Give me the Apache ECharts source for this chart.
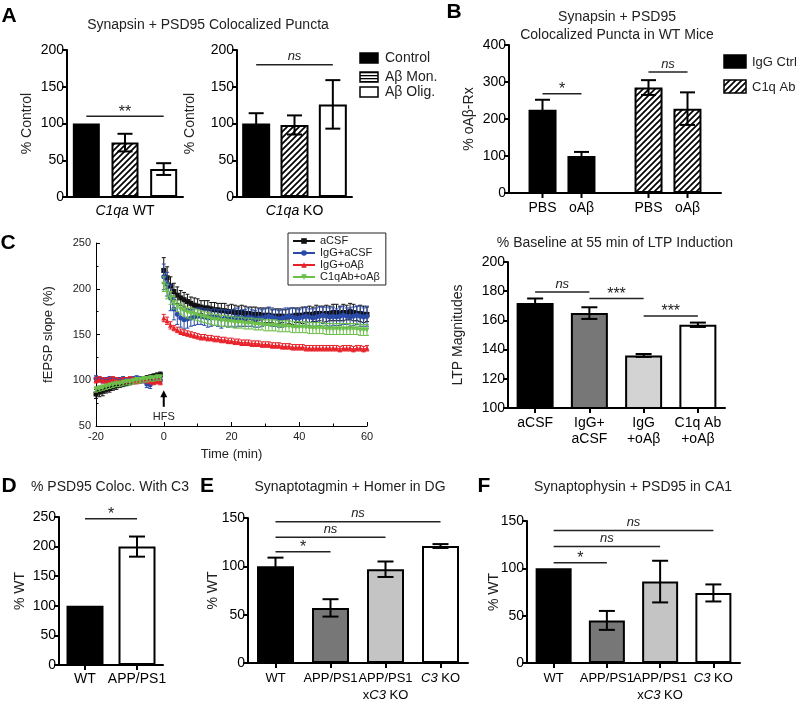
<!DOCTYPE html>
<html><head><meta charset="utf-8">
<script src="https://cdn.jsdelivr.net/npm/echarts@6/dist/echarts.min.js"></script>
<style>html,body{margin:0;padding:0;background:#fff}#c{width:800px;height:704px}</style>
</head><body><div id="c"></div>
<script>
// ================= DATA =================
// Panel A
const aGroups = ['Control', 'Aβ Mon.', 'Aβ Olig.'];
const aWT = [100, 74, 38];
const aWTSem = [0, 12, 8];
const aKO = [100, 98, 126];
const aKOSem = [14, 13, 33];
const aWTSig = [[0, 2, 110, '**']];
const aKOSig = [[0, 2, 180, 'ns']];

// Panel B (slots: IgG-PBS, IgG-oAβ, C1q-PBS, C1q-oAβ)
const bGroups = ['IgG Ctrl', 'C1q Ab'];
const bTreat = ['PBS', 'oAβ'];
const bIgG = [225, 100];
const bIgGSem = [27, 11];
const bC1q = [285, 228];
const bC1qSem = [20, 44];
const bSig = [[0, 1, 268, '*'], [2, 3, 327, 'ns']];

// Panel C (time course)
const cNames = ['aCSF', 'IgG+aCSF', 'IgG+oAβ', 'C1qAb+oAβ'];
const cTime = [-20,-19,-18,-17,-16,-15,-14,-13,-12,-11,-10,-9,-8,-7,-6,-5,-4,-3,-2,-1,
  0,1,2,3,4,5,6,7,8,9,10,11,12,13,14,15,16,17,18,19,20,21,22,23,24,25,26,27,28,29,30,
  31,32,33,34,35,36,37,38,39,40,41,42,43,44,45,46,47,48,49,50,51,52,53,54,55,56,57,58,59,60];
const cACSF = [85,87,88,90,91,93,94,95,96,97,98,99,100,100,101,102,103,104,105,106,
  220,212,203,197,193,190,188,186,184,182,181,180,179,179,178,177,177,176,176,175,
  175,174,174,174,173,173,172,172,172,171,171,171,170,170,170,170,169,170,170,171,
  171,171,172,172,172,173,173,172,173,173,174,174,173,174,174,175,174,173,173,172,172];
const cACSFErr = [5,5,5,4,4,4,4,3,3,3,3,3,3,3,3,3,3,3,3,3,
  14,12,10,9,9,8,8,8,7,8,8,7,8,8,7,8,7,8,8,7,
  8,8,7,8,8,7,8,8,7,8,8,8,7,8,8,7,8,8,9,8,
  8,9,8,9,8,9,8,9,9,8,9,9,8,9,8,9,9,8,9,9,8];
const cIgGaCSF = [102,101,100,100,101,100,99,100,101,100,100,101,102,101,100,96,95,99,101,100,
  213,205,190,178,172,168,166,167,168,169,170,170,169,168,168,169,168,167,168,167,
  168,168,169,168,168,169,168,167,168,168,169,170,169,168,167,168,169,170,169,168,
  168,169,170,169,168,169,170,171,170,169,170,169,170,171,170,169,170,171,170,169,170];
const cIgGaCSFErr = [3,3,3,3,3,3,3,3,3,3,3,3,3,3,3,4,4,3,3,3,
  14,13,14,12,11,10,10,10,9,9,9,9,9,10,9,9,9,10,9,9,
  9,10,10,9,9,10,9,9,10,9,9,10,10,9,9,10,10,9,10,10,
  9,10,10,9,10,10,10,9,10,10,10,9,10,10,9,10,10,10,11,10,11];
const cIgGoAb = [100,101,100,99,100,101,100,99,100,100,101,100,99,100,101,100,99,98,99,98,
  168,165,160,157,155,153,152,151,150,149,148,147,147,146,146,145,145,144,144,143,
  143,142,142,141,141,141,140,140,140,139,139,139,138,138,138,137,137,137,136,136,
  136,136,135,135,135,135,135,135,135,135,135,135,134,135,135,135,134,135,135,134,135];
const cIgGoAbErr = [3,3,3,3,3,3,3,3,3,3,3,3,3,3,3,3,3,3,3,3,
  4,4,4,3,3,3,3,3,3,3,3,3,3,3,3,3,3,3,3,3,
  3,3,3,3,3,3,3,3,3,3,3,3,3,3,3,3,3,3,3,3,
  3,3,3,3,3,3,3,3,3,3,3,3,3,3,3,3,3,3,3,3,3];
const cC1qoAb = [90,91,92,93,94,95,96,96,97,98,98,99,100,100,101,101,102,102,103,103,
  205,197,190,185,181,178,176,174,173,172,171,170,169,168,167,166,166,165,165,164,
  164,163,163,163,162,162,162,161,161,161,160,160,160,160,159,159,159,159,158,158,
  158,158,158,157,157,157,157,157,156,156,156,156,156,156,156,156,156,156,155,155,155];
const cC1qoAbErr = [3,3,3,3,3,3,3,3,3,3,3,3,3,3,3,3,3,3,3,3,
  8,8,7,7,6,6,6,6,6,6,6,6,6,6,6,6,6,6,6,6,
  6,6,6,6,6,6,6,6,6,6,6,6,6,6,6,6,6,6,6,6,
  6,6,6,6,6,6,6,6,6,6,6,6,6,6,6,6,6,6,6,6,6];
const hfsMark = {t: 0, tail: 71, tip: 89, labelY: 60, label: 'HFS'};

// Panel C (LTP magnitudes)
const ltpCats = ['aCSF', 'IgG+\naCSF', 'IgG\n+oAβ', 'C1q Ab\n+oAβ'];
const ltpVals = [172, 165, 136, 157];
const ltpSem = [3, 4, 1, 1.5];
const ltpSig = [[0, 1, 179.5, 'ns'], [1, 2, 175, '***'], [2, 3, 163, '***']];

// Panel D
const dCats = ['WT', 'APP/PS1'];
const dVals = [100, 200];
const dSem = [0, 17];
const dSig = [[0, 1, 247, '*']];

// Panels E, F
const efCats = ['WT', 'APP/PS1', 'APP/PS1\nx{i|C3} KO', '{i|C3} KO'];
const eVals = [100, 57, 97, 121];
const eSem = [9, 9, 8, 2];
const eSig = [[0, 1, 115, '*'], [0, 2, 130, 'ns'], [0, 3, 146, 'ns']];
const fVals = [100, 45, 86, 74];
const fSem = [0, 10, 22, 9];
const fSig = [[0, 1, 106, '*'], [0, 2, 123, 'ns'], [0, 3, 140, 'ns']];

// ================= STYLE HELPERS =================
const FONT = '"Liberation Sans", Arial, Helvetica, sans-serif';
function makeHatch() {
  const c = document.createElement('canvas'); c.width = 6; c.height = 6;
  const g = c.getContext('2d');
  g.fillStyle = '#fff'; g.fillRect(0, 0, 6, 6);
  g.strokeStyle = '#000'; g.lineWidth = 1.7; g.beginPath();
  g.moveTo(-1, 7); g.lineTo(7, -1);
  g.moveTo(-1, 1); g.lineTo(1, -1);
  g.moveTo(5, 7); g.lineTo(7, 5);
  g.stroke();
  return {image: c, repeat: 'repeat'};
}
function makeHStripe() {
  const c = document.createElement('canvas'); c.width = 4; c.height = 3;
  const g = c.getContext('2d');
  g.fillStyle = '#fff'; g.fillRect(0, 0, 4, 3);
  g.fillStyle = '#000'; g.fillRect(0, 0, 4, 1.3);
  return {image: c, repeat: 'repeat'};
}
const HATCH = makeHatch();
const HSTRIPE = makeHStripe();

const grids = [], xAxes = [], yAxes = [], series = [];
function addGrid(g, x, y) {
  grids.push(g); const i = grids.length - 1;
  x.gridIndex = i; y.gridIndex = i; xAxes.push(x); yAxes.push(y); return i;
}
function barY(min, max, interval, name, nameGap) {
  return {type: 'value', min, max, interval, name, nameLocation: 'middle', nameGap, nameMoveOverlap: false,
    nameTextStyle: {fontSize: 14, color: '#222', fontFamily: FONT},
    axisLine: {show: true, lineStyle: {color: '#000', width: 2}},
    axisTick: {show: true, length: 5, lineStyle: {color: '#000', width: 2}},
    axisLabel: {fontSize: 14, color: '#000', margin: 3, fontFamily: FONT},
    splitLine: {show: false}};
}
function catX(data, extra) {
  const ax = {type: 'category', data,
    axisLine: {show: true, lineStyle: {color: '#000', width: 2}},
    axisTick: {show: true, alignWithLabel: true, length: 5, lineStyle: {color: '#000', width: 2}},
    axisLabel: {show: true, interval: 0, fontSize: 13, color: '#000', margin: 7, fontFamily: FONT, lineHeight: 17,
      rich: {i: {fontStyle: 'italic', fontSize: 13, lineHeight: 17, fontFamily: FONT, color: '#000'}}},
    splitLine: {show: false}};
  return Object.assign(ax, extra || {});
}
function bars(gi, vals, fills, width) {
  return {type: 'bar', xAxisIndex: gi, yAxisIndex: gi, barWidth: width, silent: true, z: 2,
    data: vals.map((v, i) => ({value: v, itemStyle: {color: fills[i], borderColor: '#000', borderWidth: 2}}))};
}
const simpleSlot = (api, s, y) => api.coord([s, y]);
function errBars(gi, slots, vals, sems, slotFn, hw) {
  return {type: 'custom', xAxisIndex: gi, yAxisIndex: gi, z: 5, silent: true,
    data: vals.map((v, i) => [slots[i], v, sems[i]]), encode: {x: 0, y: 1},
    renderItem: (p, api) => {
      const s = api.value(0), m = api.value(1), e = api.value(2);
      if (!e) return {type: 'group', children: []};
      const t = slotFn(api, s, m + e), b = slotFn(api, s, m - e), x = t[0];
      const ls = {stroke: '#000', lineWidth: 2};
      return {type: 'group', children: [
        {type: 'line', shape: {x1: x, y1: t[1], x2: x, y2: b[1]}, style: ls},
        {type: 'line', shape: {x1: x - hw, y1: t[1], x2: x + hw, y2: t[1]}, style: ls},
        {type: 'line', shape: {x1: x - hw, y1: b[1], x2: x + hw, y2: b[1]}, style: ls}]};
    }};
}
function sigLines(gi, sig, slotFn) {
  return {type: 'custom', xAxisIndex: gi, yAxisIndex: gi, z: 6, silent: true,
    data: sig.map(s => [s[0], s[2]]), encode: {x: 0, y: 1},
    renderItem: (p, api) => {
      const s = sig[p.dataIndex];
      const a = slotFn(api, s[0], s[2]), b = slotFn(api, s[1], s[2]);
      const ns = s[3] === 'ns';
      return {type: 'group', children: [
        {type: 'line', shape: {x1: a[0], y1: a[1], x2: b[0], y2: b[1]}, style: {stroke: '#222', lineWidth: 1.5}},
        {type: 'text', x: (a[0] + b[0]) / 2, y: a[1] - (ns ? 8 : 4),
          style: {text: s[3], fill: '#222', fontSize: ns ? 13 : 16, fontStyle: ns ? 'italic' : 'normal',
            fontFamily: FONT, align: 'center', verticalAlign: 'middle'}}]};
    }};
}

// ================= PANEL A =================
const gA1 = addGrid({left: 67, top: 50, width: 116, height: 147},
  catX(aGroups, {axisTick: {show: false}, axisLabel: {show: false}, name: '{i|C1qa} WT', nameLocation: 'middle', nameGap: 7, nameMoveOverlap: false,
    nameTextStyle: {fontSize: 14, color: '#000', fontFamily: FONT, rich: {i: {fontStyle: 'italic', fontSize: 14, fontFamily: FONT}}}}),
  barY(0, 200, 50, '% Control', 33));
series.push(bars(gA1, aWT, ['#000', HATCH, '#fff'], 27));
series.push(errBars(gA1, [0, 1, 2], aWT, aWTSem, simpleSlot, 7.5));
series.push(sigLines(gA1, aWTSig, simpleSlot));

const gA2 = addGrid({left: 237, top: 50, width: 115, height: 147},
  catX(aGroups, {axisTick: {show: false}, axisLabel: {show: false}, name: '{i|C1qa} KO', nameLocation: 'middle', nameGap: 7, nameMoveOverlap: false,
    nameTextStyle: {fontSize: 14, color: '#000', fontFamily: FONT, rich: {i: {fontStyle: 'italic', fontSize: 14, fontFamily: FONT}}}}),
  barY(0, 200, 50, '% Control', 40));
series.push(bars(gA2, aKO, ['#000', HATCH, '#fff'], 28));
series.push(errBars(gA2, [0, 1, 2], aKO, aKOSem, simpleSlot, 7.5));
series.push(sigLines(gA2, aKOSig, simpleSlot));

// ================= PANEL B =================
const B_OFF = 19.5;
const bSlot = (api, s, y) => { const c = api.coord([Math.floor(s / 2), y]); return [c[0] + (s % 2 ? B_OFF : -B_OFF), c[1]]; };
const gB = addGrid({left: 509, top: 45, width: 212, height: 148},
  catX(bGroups, {axisTick: {show: false}, axisLabel: {show: false}}),
  barY(0, 400, 100, '% oAβ-Rx', 33));
series.push({type: 'bar', xAxisIndex: gB, yAxisIndex: gB, barWidth: 28, barGap: '39%', silent: true, name: 'PBS',
  data: [{value: bIgG[0], itemStyle: {color: '#000', borderColor: '#000', borderWidth: 2}},
         {value: bC1q[0], itemStyle: {color: HATCH, borderColor: '#000', borderWidth: 2}}]});
series.push({type: 'bar', xAxisIndex: gB, yAxisIndex: gB, barWidth: 28, barGap: '39%', silent: true, name: 'oAβ',
  data: [{value: bIgG[1], itemStyle: {color: '#000', borderColor: '#000', borderWidth: 2}},
         {value: bC1q[1], itemStyle: {color: HATCH, borderColor: '#000', borderWidth: 2}}]});
series.push(errBars(gB, [0, 1, 2, 3], bIgG.concat(bC1q), bIgGSem.concat(bC1qSem), bSlot, 7.5));
series.push(sigLines(gB, bSig, bSlot));
series.push({type: 'custom', xAxisIndex: gB, yAxisIndex: gB, silent: true, z: 6,
  data: [[0, 0], [1, 0], [2, 0], [3, 0]], encode: {x: 0, y: 1},
  renderItem: (p, api) => {
    const s = api.value(0); const c = bSlot(api, s, 0);
    return {type: 'group', children: [
      {type: 'line', shape: {x1: c[0], y1: c[1], x2: c[0], y2: c[1] + 5}, style: {stroke: '#000', lineWidth: 2}},
      {type: 'text', x: c[0], y: c[1] + 15, style: {text: bTreat[s % 2], fill: '#000', fontSize: 14, fontFamily: FONT, align: 'center', verticalAlign: 'middle'}}]};
  }});

// ================= PANEL C (line) =================
const lineAxisBase = {axisLine: {show: true, onZero: false, lineStyle: {color: '#000', width: 1}},
  axisTick: {show: true, inside: true, length: 4, lineStyle: {color: '#000', width: 1}},
  minorTick: {show: true, splitNumber: 2, length: 2.5, lineStyle: {color: '#000', width: 1}},
  axisLabel: {fontSize: 11, color: '#222', margin: 5, fontFamily: FONT}, splitLine: {show: false}, minorSplitLine: {show: false}};
const gC = addGrid({left: 96, top: 243, width: 271, height: 183},
  Object.assign({type: 'value', min: -20, max: 60, interval: 20, name: 'Time (min)', nameLocation: 'middle', nameGap: 22, nameMoveOverlap: false,
    nameTextStyle: {fontSize: 13, color: '#222', fontFamily: FONT}}, lineAxisBase),
  Object.assign({type: 'value', min: 50, max: 250, interval: 50, name: 'fEPSP slope (%)', nameLocation: 'middle', nameGap: 41, nameMoveOverlap: false,
    nameTextStyle: {fontSize: 13, color: '#222', fontFamily: FONT}}, lineAxisBase));
const cSeriesDefs = [
  {name: cNames[0], vals: cACSF, errs: cACSFErr, color: '#111', symbol: 'rect', rot: 0},
  {name: cNames[1], vals: cIgGaCSF, errs: cIgGaCSFErr, color: '#2a4aa8', symbol: 'circle', rot: 0},
  {name: cNames[2], vals: cIgGoAb, errs: cIgGoAbErr, color: '#e8222a', symbol: 'triangle', rot: 0},
  {name: cNames[3], vals: cC1qoAb, errs: cC1qoAbErr, color: '#6cbf4a', symbol: 'triangle', rot: 180}];
cSeriesDefs.forEach((d, k) => {
  series.push({type: 'custom', xAxisIndex: gC, yAxisIndex: gC, silent: true, z: 2 + 2 * k,
    data: cTime.map((t, i) => [t, d.vals[i], d.errs[i]]), encode: {x: 0, y: 1},
    renderItem: (p, api) => {
      const t = api.value(0), v = api.value(1), e = api.value(2);
      const a = api.coord([t, v + e]), b = api.coord([t, v - e]);
      const ls = {stroke: d.color, lineWidth: 1};
      return {type: 'group', children: [
        {type: 'line', shape: {x1: a[0], y1: a[1], x2: a[0], y2: b[1]}, style: ls},
        {type: 'line', shape: {x1: a[0] - 2, y1: a[1], x2: a[0] + 2, y2: a[1]}, style: ls},
        {type: 'line', shape: {x1: a[0] - 2, y1: b[1], x2: a[0] + 2, y2: b[1]}, style: ls}]};
    }});
  const data = [];
  cTime.forEach((t, i) => { if (i > 0 && cTime[i - 1] < 0 && t >= 0) data.push([null, null]); data.push([t, d.vals[i]]); });
  series.push({type: 'line', name: d.name, xAxisIndex: gC, yAxisIndex: gC, z: 3 + 2 * k, silent: true, data,
    connectNulls: false, symbol: d.symbol, symbolRotate: d.rot, symbolSize: 5, showSymbol: true,
    lineStyle: {color: d.color, width: 1}, itemStyle: {color: d.color}});
});
series.push({type: 'custom', xAxisIndex: gC, yAxisIndex: gC, silent: true, z: 12,
  data: [[hfsMark.t, hfsMark.tip]], encode: {x: 0, y: 1},
  renderItem: (p, api) => {
    const tip = api.coord([hfsMark.t, hfsMark.tip]), tail = api.coord([hfsMark.t, hfsMark.tail]), lab = api.coord([hfsMark.t, hfsMark.labelY]);
    return {type: 'group', children: [
      {type: 'line', shape: {x1: tip[0], y1: tip[1] + 5, x2: tail[0], y2: tail[1]}, style: {stroke: '#000', lineWidth: 2}},
      {type: 'polygon', shape: {points: [[tip[0] - 3.5, tip[1] + 7], [tip[0] + 3.5, tip[1] + 7], [tip[0], tip[1]]]}, style: {fill: '#000'}},
      {type: 'text', x: lab[0], y: lab[1], style: {text: hfsMark.label, fill: '#222', fontSize: 11, fontFamily: FONT, align: 'center', verticalAlign: 'middle'}}]};
  }});

// ================= PANEL C (LTP bars) =================
const gL = addGrid({left: 508, top: 262, width: 217, height: 146},
  catX(ltpCats, {axisLabel: {show: true, interval: 0, fontSize: 14, color: '#000', margin: 7, lineHeight: 16, fontFamily: FONT}}),
  barY(100, 200, 20, 'LTP Magnitudes', 43));
series.push(bars(gL, ltpVals, ['#000', '#777', '#d3d3d3', '#fff'], 37));
series.push(errBars(gL, [0, 1, 2, 3], ltpVals, ltpSem, simpleSlot, 8));
series.push(sigLines(gL, ltpSig, simpleSlot));

// ================= PANEL D =================
const gD = addGrid({left: 59, top: 517, width: 104, height: 148},
  catX(dCats, {axisLabel: {show: true, interval: 0, fontSize: 14, color: '#000', margin: 7, fontFamily: FONT}}),
  barY(0, 250, 50, '% WT', 32));
series.push(bars(gD, dVals, ['#000', '#fff'], 37));
series.push(errBars(gD, [0, 1], dVals, dSem, simpleSlot, 8));
series.push(sigLines(gD, dSig, simpleSlot));

// ================= PANEL E =================
const gE = addGrid({left: 248, top: 518, width: 220, height: 148}, catX(efCats), barY(0, 150, 50, '% WT', 28));
series.push(bars(gE, eVals, ['#000', '#777', '#c4c4c4', '#fff'], 37));
series.push(errBars(gE, [0, 1, 2, 3], eVals, eSem, simpleSlot, 8));
series.push(sigLines(gE, eSig, simpleSlot));

// ================= PANEL F =================
const gF = addGrid({left: 527, top: 521, width: 213, height: 146}, catX(efCats), barY(0, 150, 50, '% WT', 26));
series.push(bars(gF, fVals, ['#000', '#777', '#c4c4c4', '#fff'], 36));
series.push(errBars(gF, [0, 1, 2, 3], fVals, fSem, simpleSlot, 8));
series.push(sigLines(gF, fSig, simpleSlot));

// ================= TEXT / LEGENDS =================
function txt(x, y, text, size, opts) {
  return {type: 'text', x, y, silent: true, style: Object.assign({text, fill: '#222', fontSize: size, fontFamily: FONT, align: 'center', verticalAlign: 'middle'}, opts || {})};
}
function letter(x, y, t) { return txt(x, y, t, 21, {fontWeight: 'bold', fill: '#000'}); }
function box(x, y, w, h, fill) { return {type: 'rect', silent: true, shape: {x, y, width: w, height: h}, style: {fill, stroke: '#000', lineWidth: 1.5}}; }
const graphic = [
  letter(9, 16, 'A'), letter(454, 12, 'B'), letter(8, 243, 'C'), letter(9, 486, 'D'), letter(207, 486, 'E'), letter(484, 486, 'F'),
  txt(208, 25, 'Synapsin + PSD95 Colocalized Puncta', 14),
  txt(617, 17, 'Synapsin + PSD95', 14), txt(617, 35, 'Colocalized Puncta in WT Mice', 14),
  txt(615, 243, '% Baseline at 55 min of LTP Induction', 14),
  txt(110, 487, '% PSD95 Coloc. With C3', 14),
  txt(350, 487, 'Synaptotagmin + Homer in DG', 14),
  txt(633, 487, 'Synaptophysin + PSD95 in CA1', 14),
  box(360, 53, 18, 10, '#000'), box(360, 72, 18, 10, HSTRIPE), box(360, 87, 18, 10, '#fff'),
  txt(385, 58, aGroups[0], 14, {align: 'left'}), txt(385, 77, aGroups[1], 14, {align: 'left'}), txt(385, 92, aGroups[2], 14, {align: 'left'}),
  box(724, 55, 22, 13, '#000'), box(724, 80, 22, 13, HATCH),
  txt(752, 62, bGroups[0], 13, {align: 'left'}), txt(752, 87, bGroups[1], 13, {align: 'left'})
];

const chart = echarts.init(document.getElementById('c'), null, {renderer: 'canvas', width: 800, height: 704});
chart.setOption({
  backgroundColor: '#fff', animation: false, textStyle: {fontFamily: FONT},
  grid: grids, xAxis: xAxes, yAxis: yAxes, series, graphic,
  legend: [{data: cNames, left: 288, top: 233, orient: 'vertical', itemGap: 0, itemWidth: 22, itemHeight: 7,
    padding: [2, 6, 2, 4], borderColor: '#222', borderWidth: 1, backgroundColor: '#fff', selectedMode: false,
    textStyle: {fontSize: 11, color: '#222', fontFamily: FONT, lineHeight: 12}}]
});
</script></body></html>
